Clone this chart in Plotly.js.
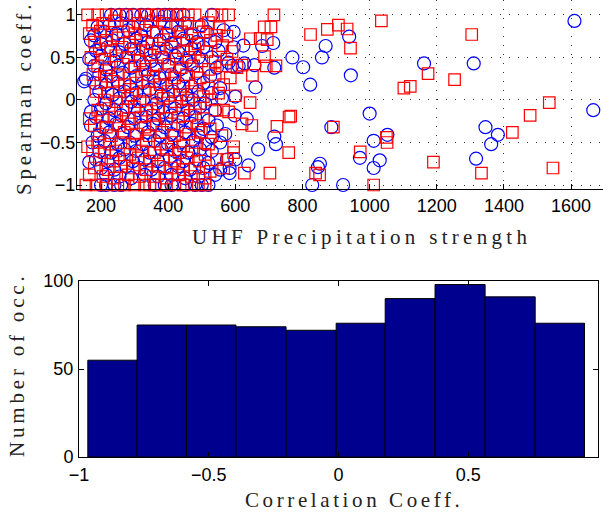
<!DOCTYPE html>
<html><head><meta charset="utf-8">
<script src="https://cdn.plot.ly/plotly-3.0.1.min.js"></script>
<style>
html,body{margin:0;padding:0;background:#fff;}
#chart{width:603px;height:514px;}
text[data-unformatted="UHF Precipitation strength"]{letter-spacing:4.3px;}
text[data-unformatted="Spearman coeff."]{letter-spacing:3.8px;}
text[data-unformatted="Number of occ."]{letter-spacing:3.8px;}
text[data-unformatted="Correlation Coeff."]{letter-spacing:3.6px;}
</style></head><body><div id="chart"></div><script>
// ---- top panel: red squares (x = UHF precipitation strength, y = Spearman coeff.)
const redPoints = [
 [824,0.77],[874,0.83],[907,0.88],[933,0.835],[943,0.61],[1035,0.93],[1304,0.77],[1174,0.31],[1253,0.24],[1102,0.14],[1121,0.16],
 [1535,-0.03],[1478,-0.18],[1425,-0.38],[892,-0.32],[972,-0.61],[1050,-0.44],[1052,-0.50],[1190,-0.73],[1333,-0.86],[1546,-0.80],
 [839,-0.86],[851,-0.88],[1012,-1.0],
 [715,1.0],[686,0.86],[706,0.86],[674,0.725],[695,0.71],[687,0.51],[692,0.40],[721,0.40],[651,0.29],[644,-0.03],[760,-0.20],
 [765,-0.19],[649,-0.30],[724,-0.31],[759,-0.62],[703,-0.86],[627,-0.86],[565,-0.12],[620,0.41],[595,-0.55],[595,-0.62],
 [575,-0.7],[645,0.72],[590,0.57],
 [160,1],[190,1],[215,1],[245,1],[275,1],[300,1],[330,1],[350,1],[370,1],[395,1],[415,1],[435,1],[460,1],[480,1],[535,1],[560,1],[580,1],
 [175,0.88],[205,0.9],[240,0.93],[283,0.87],[310,0.9],[348,0.92],[388,0.9],[428,0.88],[458,0.9],[492,0.86],[520,0.91],[552,0.85],
 [165,0.78],[198,0.81],[232,0.76],[266,0.8],[302,0.78],[330,0.82],[366,0.8],[401,0.77],[440,0.8],[470,0.78],[505,0.8],[545,0.76],[575,0.75],
 [181,0.68],[214,0.7],[251,0.73],[285,0.68],[318,0.7],[352,0.66],[386,0.71],[421,0.68],[456,0.7],[489,0.66],[526,0.7],[562,0.64],
 [195,0.6],[229,0.58],[262,0.62],[298,0.6],[335,0.58],[371,0.61],[410,0.62],[446,0.58],[479,0.6],[515,0.57],
 [170,0.5],[211,0.48],[244,0.52],[282,0.5],[316,0.46],[346,0.53],[380,0.5],[424,0.48],[462,0.5],[500,0.46],[540,0.45],[575,0.48],
 [190,0.4],[224,0.38],[266,0.42],[301,0.4],[331,0.36],[364,0.4],[402,0.42],[439,0.38],[476,0.4],[520,0.36],[560,0.4],[605,0.38],
 [176,0.3],[216,0.28],[249,0.3],[286,0.26],[321,0.3],[356,0.28],[389,0.3],[419,0.26],[455,0.3],[495,0.26],[540,0.3],[585,0.26],
 [200,0.2],[236,0.22],[270,0.18],[306,0.2],[339,0.22],[376,0.18],[411,0.2],[444,0.16],[481,0.2],[520,0.14],[565,0.18],
 [185,0.1],[221,0.08],[254,0.1],[291,0.06],[329,0.1],[366,0.08],[399,0.1],[436,0.06],[470,0.1],[505,0.04],[550,0.08],[600,0.05],
 [210,0.0],[246,-0.02],[279,0.02],[316,-0.02],[350,0.0],[386,0.02],[421,-0.02],[460,0.0],[494,-0.04],[530,0.0],
 [190,-0.12],[224,-0.1],[266,-0.12],[299,-0.08],[336,-0.12],[369,-0.1],[406,-0.08],[444,-0.12],[481,-0.1],[540,-0.12],[580,-0.14],
 [165,-0.22],[204,-0.2],[241,-0.2],[281,-0.22],[319,-0.2],[356,-0.18],[394,-0.22],[431,-0.2],[465,-0.18],[505,-0.22],
 [180,-0.3],[216,-0.32],[254,-0.3],[291,-0.28],[331,-0.32],[364,-0.3],[409,-0.28],[451,-0.32],[489,-0.3],[525,-0.34],[620,-0.28],
 [195,-0.4],[231,-0.42],[269,-0.38],[306,-0.4],[344,-0.42],[381,-0.38],[419,-0.42],[461,-0.4],[499,-0.38],[560,-0.42],
 [160,-0.55],[190,-0.5],[226,-0.52],[259,-0.5],[301,-0.52],[334,-0.48],[376,-0.52],[409,-0.5],[446,-0.54],[481,-0.5],[520,-0.52],
 [175,-0.6],[211,-0.62],[244,-0.6],[286,-0.64],[321,-0.6],[359,-0.62],[396,-0.58],[434,-0.62],[471,-0.6],[510,-0.64],
 [195,-0.7],[236,-0.72],[269,-0.7],[311,-0.68],[344,-0.72],[386,-0.7],[419,-0.72],[456,-0.68],[494,-0.72],[545,-0.7],
 [180,-0.8],[221,-0.82],[259,-0.78],[296,-0.8],[334,-0.82],[371,-0.78],[409,-0.8],[446,-0.82],[479,-0.8],[525,-0.84],[565,-0.8],
 [165,-0.88],[206,-0.9],[239,-0.92],[281,-0.88],[314,-0.9],[356,-0.9],[394,-0.92],[431,-0.88],[469,-0.9],[510,-0.92],
 [155,-1],[185,-1],[215,-1],[250,-1],[270,-1],[300,-1],[330,-1],[345,-1],[360,-1],[380,-1],[395,-1],[420,-1],[445,-1],[470,-1],[490,-1],[510,-1]
];
// ---- top panel: blue circles
const bluePoints = [
 [1610,0.93],[1666,-0.12],[939,0.745],[869,0.635],[858,0.50],[802,0.385],[944,0.29],[823,0.18],[1162,0.43],[1310,0.43],
 [1000,-0.16],[886,-0.32],[1012,-0.48],[1053,-0.41],[971,-0.68],[1030,-0.71],[1012,-0.80],[1345,-0.32],[1382,-0.41],[1362,-0.52],
 [1317,-0.69],[852,-0.75],[846,-0.79],[829,-1.0],[921,-1.0],
 [680,0.635],[713,0.67],[770,0.50],[627,0.43],[657,0.41],[716,0.38],[660,0.15],[624,0.64],[634,-0.22],[716,-0.43],[721,-0.52],
 [668,-0.58],[639,-0.77],[600,0.04],[598,-0.18],[600,-0.7],[583,-0.8],[583,-0.86],[595,0.62],[595,0.8],[610,0.4],
 [230,1],[255,1],[275,1],[295,1],[320,1],[340,1],[370,1],[390,1],[405,1],[425,1],[445,1],[530,1],
 [190,0.86],[225,0.88],[260,0.9],[295,0.86],[335,0.88],[375,0.92],[410,0.86],[450,0.9],[500,0.88],
 [180,0.76],[210,0.8],[245,0.78],[280,0.82],[320,0.76],[355,0.8],[395,0.78],[430,0.8],[470,0.76],[515,0.8],[565,0.82],
 [170,0.7],[200,0.66],[235,0.7],[270,0.66],[305,0.72],[340,0.68],[375,0.7],[410,0.66],[445,0.72],[485,0.68],[540,0.68],
 [185,0.58],[220,0.62],[255,0.56],[290,0.6],[325,0.62],[360,0.56],[395,0.6],[430,0.56],[470,0.6],[505,0.62],[550,0.58],
 [165,0.48],[200,0.52],[240,0.46],[275,0.5],[310,0.52],[350,0.46],[385,0.5],[420,0.52],[455,0.46],[490,0.5],[530,0.5],[580,0.44],
 [180,0.4],[215,0.36],[250,0.4],[290,0.38],[325,0.42],[360,0.36],[400,0.4],[435,0.36],[470,0.42],[545,0.38],[590,0.4],
 [195,0.3],[230,0.28],[265,0.32],[305,0.28],[340,0.3],[375,0.26],[410,0.3],[450,0.28],[485,0.32],[525,0.28],
 [150,0.22],[155,0.25],[180,0.2],[215,0.18],[250,0.2],[285,0.16],[325,0.2],[360,0.22],[395,0.18],[430,0.2],[470,0.16],[505,0.2],[555,0.14],
 [195,0.1],[235,0.06],[270,0.1],[305,0.08],[345,0.12],[380,0.06],[415,0.1],[455,0.06],[490,0.1],[530,0.08],
 [180,0.0],[215,-0.04],[255,0.02],[290,-0.02],[325,0.0],[365,-0.04],[400,0.02],[440,-0.02],[475,0.0],[510,-0.04],[560,0.02],
 [170,-0.14],[200,-0.1],[240,-0.12],[275,-0.08],[310,-0.12],[350,-0.1],[385,-0.14],[420,-0.1],[460,-0.12],[495,-0.08],[540,-0.12],
 [185,-0.2],[225,-0.22],[260,-0.18],[300,-0.22],[335,-0.2],[370,-0.22],[410,-0.18],[445,-0.22],[480,-0.2],[520,-0.24],
 [170,-0.3],[205,-0.32],[245,-0.28],[280,-0.32],[320,-0.3],[355,-0.28],[390,-0.32],[430,-0.3],[470,-0.28],[505,-0.34],[545,-0.3],
 [190,-0.42],[225,-0.38],[265,-0.4],[300,-0.42],[340,-0.38],[375,-0.42],[410,-0.4],[450,-0.38],[490,-0.42],[530,-0.44],[570,-0.4],
 [175,-0.5],[210,-0.48],[250,-0.52],[285,-0.5],[325,-0.52],[360,-0.48],[400,-0.52],[435,-0.5],[475,-0.48],[510,-0.52],[555,-0.5],
 [195,-0.6],[230,-0.62],[270,-0.58],[305,-0.6],[345,-0.62],[380,-0.58],[420,-0.6],[460,-0.62],[495,-0.58],[530,-0.6],
 [165,-0.73],[185,-0.7],[220,-0.72],[255,-0.68],[295,-0.72],[330,-0.7],[370,-0.72],[405,-0.68],[445,-0.72],[485,-0.7],[520,-0.74],[575,-0.7],
 [200,-0.8],[240,-0.82],[275,-0.78],[315,-0.8],[350,-0.82],[390,-0.8],[430,-0.78],[465,-0.82],[505,-0.8],[555,-0.82],
 [215,-0.88],[255,-0.9],[290,-0.92],[330,-0.88],[370,-0.9],[410,-0.88],[450,-0.92],[490,-0.9],[540,-0.88],
 [200,-1],[215,-1],[240,-1],[260,-1],[360,-1],[390,-1],[410,-1],[450,-1],[480,-1],[500,-1],[520,-1]
];
// ---- bottom panel: histogram of correlation coefficients
const binEdges = [-0.966,-0.776,-0.586,-0.395,-0.202,-0.009,0.180,0.372,0.565,0.758,0.948];
const binCounts = [55,75,75,74,72,76,90,98,91,76];
const topXTicks = [200,400,600,800,1000,1200,1400,1600];
const topYTicks = [-1,-0.5,0,0.5,1];
const botXTicks = [-1,-0.5,0,0.5,1];
const botYTicks = [0,50,100];

const binCenters = binCounts.map((_, i) => (binEdges[i] + binEdges[i+1]) / 2);
const binWidths = binCounts.map((_, i) => binEdges[i+1] - binEdges[i]);

const tickFont = {family: 'Liberation Sans, Arial, sans-serif', size: 18, color: '#000'};
const titleFont = {family: 'Liberation Serif, Times New Roman, serif', size: 21, color: '#222'};

const traces = [
  {type: 'scatter', mode: 'markers', xaxis: 'x', yaxis: 'y', cliponaxis: false,
   x: bluePoints.map(p => p[0]), y: bluePoints.map(p => p[1]),
   marker: {symbol: 'circle-open', size: 13, color: '#0000ff', line: {width: 1.2, color: '#0000ff'}}},
  {type: 'scatter', mode: 'markers', xaxis: 'x', yaxis: 'y', cliponaxis: false,
   x: redPoints.map(p => p[0]), y: redPoints.map(p => p[1]),
   marker: {symbol: 'square-open', size: 11.5, color: '#ff0000', line: {width: 1.2, color: '#ff0000'}}},
  {type: 'bar', xaxis: 'x2', yaxis: 'y2', x: binCenters, y: binCounts, width: binWidths,
   marker: {color: '#00008f', line: {color: '#000', width: 1}}}
];

const gridStyle = {showgrid: true, gridcolor: '#333', gridwidth: 1, griddash: '1px,8px'};

const layout = {
  width: 603, height: 514, margin: {l: 0, r: 0, t: 0, b: 0},
  paper_bgcolor: '#fff', plot_bgcolor: '#fff', showlegend: false, bargap: 0,
  xaxis: Object.assign({domain: [0.1277, 1], range: [128.5, 1695], tickvals: topXTicks, ticks: 'inside', ticklen: 5,
    tickcolor: '#000', showline: true, linecolor: '#000', linewidth: 1, zeroline: false, tickfont: tickFont,
    anchor: 'y', ticklabelstandoff: 0}, gridStyle),
  yaxis: Object.assign({domain: [0.6323, 1], range: [-1.047, 1.176], tickvals: topYTicks, ticks: 'inside', ticklen: 5,
    tickcolor: '#000', showline: true, linecolor: '#000', linewidth: 1, zeroline: false, tickfont: tickFont,
    anchor: 'x', ticklabelstandoff: -3}, gridStyle),
  xaxis2: {domain: [0.1310, 0.9917], range: [-1, 1], tickvals: botXTicks, ticks: 'inside', ticklen: 5, tickcolor: '#000',
    showline: true, mirror: 'ticks', linecolor: '#000', linewidth: 1, zeroline: false, showgrid: false,
    tickfont: tickFont, anchor: 'y2', ticklabelstandoff: 1},
  yaxis2: {domain: [0.1109, 0.4533], range: [0, 100], tickvals: botYTicks, ticks: 'inside', ticklen: 5, tickcolor: '#000',
    showline: true, mirror: 'ticks', linecolor: '#000', linewidth: 1, zeroline: false, showgrid: false,
    tickfont: tickFont, anchor: 'x2', ticklabelstandoff: 1},
  annotations: [
    {text: 'UHF Precipitation strength', xref: 'paper', yref: 'paper', x: 0.5987, y: 0.5389,
     xanchor: 'center', yanchor: 'middle', showarrow: false, font: titleFont},
    {text: 'Spearman coeff.', xref: 'paper', yref: 'paper', x: 0.0398, y: 0.8093, textangle: -90,
     xanchor: 'center', yanchor: 'middle', showarrow: false, font: titleFont},
    {text: 'Number of occ.', xref: 'paper', yref: 'paper', x: 0.0282, y: 0.29, textangle: -90,
     xanchor: 'center', yanchor: 'middle', showarrow: false, font: titleFont},
    {text: 'Correlation Coeff.', xref: 'paper', yref: 'paper', x: 0.587, y: 0.027,
     xanchor: 'center', yanchor: 'middle', showarrow: false, font: titleFont}
  ]
};

Plotly.newPlot('chart', traces, layout, {staticPlot: true, displayModeBar: false});
</script></body></html>
